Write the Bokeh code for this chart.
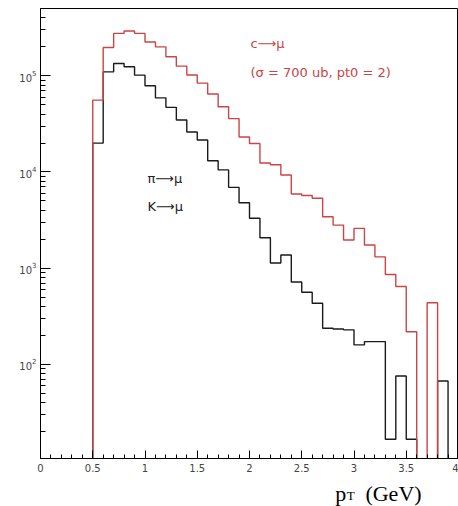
import numpy as np
from bokeh.plotting import figure
from bokeh.layouts import column
from bokeh.models import Label, Range1d, SingleIntervalTicker, FixedTicker
from bokeh.embed import file_html
from bokeh.resources import INLINE

# bin edges (GeV)
bin_edges = [0.5, 0.6, 0.7, 0.8, 0.9, 1.0, 1.1, 1.2, 1.3, 1.4, 1.5, 1.6, 1.7, 1.8,
             1.9, 2.0, 2.1, 2.2, 2.3, 2.4, 2.5, 2.6, 2.7, 2.8, 2.9, 3.0, 3.1, 3.2,
             3.3, 3.4, 3.5, 3.6, 3.7, 3.8, 3.9, 4.0]

# c -> mu (red)
charm_mu = [55900, 197000, 276000, 292000, 276000, 225000, 200000, 158000, 126000, 102000,
            84000, 64600, 47700, 35900, 23100, 19800, 12400, 11900, 9290, 5890,
            5690, 5320, 3420, 2800, 1960, 2590, 1740, 1310, 857, 644,
            218, 0, 436, 0, 0]

# pi/K -> mu (black)
pik_mu = [19950, 110000, 134500, 124000, 101600, 78700, 59000, 47000, 34700, 26000,
          21500, 13100, 10500, 6920, 4790, 3300, 2070, 1130, 1370, 717,
          561, 431, 237, 233, 228, 159, 172, 172, 16.6, 75.5,
          16.6, 0, 0, 67, 0]

y_major = [1e2, 1e3, 1e4, 1e5]

RED = "#cc4444"
FLOOR = 1.0


def outline(edges, vals):
    xs = [edges[0]]
    ys = [FLOOR]
    for i, v in enumerate(vals):
        yv = v if v > 0 else FLOOR
        xs += [edges[i], edges[i + 1]]
        ys += [yv, yv]
    xs.append(edges[-1])
    ys.append(FLOOR)
    return xs, ys


p = figure(width=458, height=476,
           x_range=Range1d(0, 4.0),
           y_range=Range1d(10 ** 1.02, 10 ** 5.70),
           y_axis_type="log",
           output_backend="svg", toolbar_location=None,
           min_border_left=40, min_border_right=0,
           min_border_top=8, min_border_bottom=18)

p.xgrid.visible = False
p.ygrid.visible = False
p.outline_line_color = "black"
p.outline_line_width = 1
p.background_fill_color = "white"
p.border_fill_color = "white"

xs, ys = outline(bin_edges, pik_mu)
p.line(xs, ys, line_color="#1a1a1a", line_width=1.4)
xs, ys = outline(bin_edges, charm_mu)
p.line(xs, ys, line_color=RED, line_width=1.4)

# axes
p.xaxis.ticker = SingleIntervalTicker(interval=0.5, num_minor_ticks=5)
p.yaxis.ticker = FixedTicker(ticks=y_major,
                             minor_ticks=[m * 10 ** e for e in range(1, 6) for m in range(2, 10)])
for ax in (p.xaxis, p.yaxis):
    ax.axis_line_color = "black"
    ax.major_tick_line_color = "black"
    ax.minor_tick_line_color = "black"
    ax.major_tick_out = 0
    ax.minor_tick_out = 0
    ax.major_label_text_font = "DejaVu Sans"
    ax.major_label_text_font_size = "10px"
    ax.major_label_text_color = "#444444"
p.xaxis.major_tick_in = 8
p.xaxis.minor_tick_in = 4
p.yaxis.major_tick_in = 10
p.yaxis.minor_tick_in = 5
p.xaxis.major_label_standoff = 5
p.yaxis.major_label_standoff = 4

# text annotations
p.add_layout(Label(x=2.01, y=2.17e5, text="c⟶μ", text_color=RED,
                   text_font="DejaVu Sans", text_font_size="13px", text_baseline="middle"))
p.add_layout(Label(x=2.01, y=1.08e5, text="(σ = 700 ub, pt0 = 2)", text_color=RED,
                   text_font="DejaVu Sans", text_font_size="13px", text_baseline="middle"))
p.add_layout(Label(x=1.024, y=8550, text="π⟶μ", text_color="#222222",
                   text_font="DejaVu Sans", text_font_size="13px", text_baseline="middle"))
p.add_layout(Label(x=1.024, y=4380, text="K⟶μ", text_color="#222222",
                   text_font="DejaVu Sans", text_font_size="13px", text_baseline="middle"))

# x-axis title strip: p_T (GeV), placed in pixel coordinates of a small text panel
t = figure(width=458, height=30, title=None,
           x_range=Range1d(0, 458), y_range=Range1d(0, 30),
           x_axis_location=None, y_axis_location=None,
           output_backend="svg", toolbar_location=None,
           min_border=0, min_border_left=0, min_border_right=0,
           min_border_top=0, min_border_bottom=0)
t.xgrid.visible = False
t.ygrid.visible = False
t.outline_line_color = None
t.background_fill_color = "white"
t.border_fill_color = "white"
t.add_layout(Label(x=323, y=13, text="p", text_color="black",
                   text_font="Liberation Serif", text_font_size="22px", text_baseline="alphabetic"))
t.add_layout(Label(x=335.5, y=11, text="T", text_color="black",
                   text_font="Liberation Serif", text_font_size="13px", text_baseline="alphabetic"))
t.add_layout(Label(x=356, y=13, text="(GeV)", text_color="black",
                   text_font="Liberation Serif", text_font_size="22px", text_baseline="alphabetic"))

layout = column(p, t, spacing=0)
open("out.html", "w").write(file_html(layout, INLINE))
